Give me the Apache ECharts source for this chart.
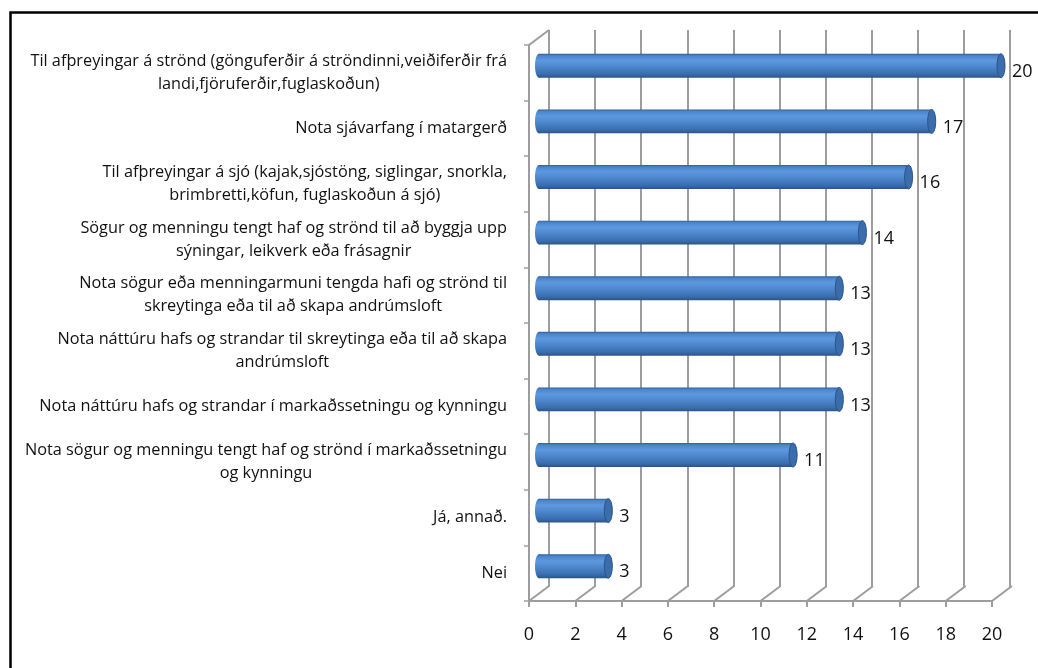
<!DOCTYPE html>
<html>
<head>
<meta charset="utf-8">
<title>Chart</title>
<script src="https://cdn.jsdelivr.net/npm/echarts@6/dist/echarts.min.js"></script>
<style>
  html, body { margin: 0; padding: 0; background: #fff; }
  #chart { width: 1038px; height: 668px; }
</style>
</head>
<body>
<div id="chart"></div>
<script>
// data
var categories = [
  'Til afþreyingar á strönd (gönguferðir á ströndinni,veiðiferðir frá\nlandi,fjöruferðir,fuglaskoðun)',
  'Nota sjávarfang í matargerð',
  'Til afþreyingar á sjó (kajak,sjóstöng, siglingar, snorkla,\nbrimbretti,köfun, fuglaskoðun á sjó)',
  'Sögur og menningu tengt haf og strönd til að byggja upp\nsýningar, leikverk eða frásagnir',
  'Nota sögur eða menningarmuni tengda hafi og strönd til\nskreytinga eða til að skapa andrúmsloft',
  'Nota náttúru hafs og strandar til skreytinga eða til að skapa\nandrúmsloft',
  'Nota náttúru hafs og strandar í markaðssetningu og kynningu',
  'Nota sögur og menningu tengt haf og strönd í markaðssetningu\nog kynningu',
  'Já, annað.',
  'Nei'
];
var counts = [20, 17, 16, 14, 13, 13, 13, 11, 3, 3];
var xTicks = [0, 2, 4, 6, 8, 10, 12, 14, 16, 18, 20];

var GRID_COLOR = '#9d9d9d';
var DEPTH_X = 20, DEPTH_Y = -15; // offset of the back wall (3d look)
var FONT = 'Open Sans';

var chart = echarts.init(document.getElementById('chart'));

function valueAxis(gridIndex, show) {
  return {
    type: 'value', gridIndex: gridIndex, min: 0, max: 20, interval: 2,
    axisLine: { show: show, lineStyle: { color: GRID_COLOR, width: 2 } },
    axisTick: { show: show, length: 6, lineStyle: { color: GRID_COLOR, width: 2 } },
    axisLabel: { show: show, margin: 25, color: '#111', fontSize: 18, fontFamily: FONT },
    splitLine: { show: !show, lineStyle: { color: GRID_COLOR, width: 2 } }
  };
}

function catAxis(gridIndex, show) {
  return {
    type: 'category', gridIndex: gridIndex, data: categories, inverse: true,
    axisLine: { show: show, lineStyle: { color: GRID_COLOR, width: 2 } },
    axisTick: { show: show, length: 5, lineStyle: { color: GRID_COLOR, width: 1.5 } },
    axisLabel: {
      show: show, align: 'right', margin: 22,
      formatter: function (v) {
        return v.split('\n').map(function (l) { return '{c|' + l + '}'; }).join('\n');
      },
      rich: { c: { align: 'center', fontSize: 16.3, lineHeight: 23, color: '#111', fontFamily: FONT } }
    },
    splitLine: { show: false }
  };
}

// floor diagonals + left wall top edge
function renderFloor(params, api) {
  var v = api.value(0);
  var cs = params.coordSys;
  var x = api.coord([v, 0])[0];
  var bottom = cs.y + cs.height;
  var children = [{
    type: 'line',
    shape: { x1: x, y1: bottom, x2: x + DEPTH_X, y2: bottom + DEPTH_Y },
    style: { stroke: GRID_COLOR, lineWidth: 2 }
  }];
  if (v === 0) {
    children.push({
      type: 'line',
      shape: { x1: x, y1: cs.y, x2: x + DEPTH_X, y2: cs.y + DEPTH_Y },
      style: { stroke: GRID_COLOR, lineWidth: 2 }
    });
  }
  return { type: 'group', children: children };
}

// horizontal cylinders
function renderCylinder(params, api) {
  var idx = api.value(1);
  var val = api.value(0);
  var start = api.coord([0, idx]);
  var end = api.coord([val, idx]);
  var h = api.size([0, 1])[1] * 0.43;
  var rx = 4;
  var body = new echarts.graphic.LinearGradient(0, 0, 0, 1, [
    { offset: 0, color: '#2f5e98' },
    { offset: 0.08, color: '#4a84cc' },
    { offset: 0.28, color: '#5e99df' },
    { offset: 0.55, color: '#4c86cc' },
    { offset: 0.85, color: '#3a6dae' },
    { offset: 1, color: '#2a5488' }
  ]);
  return {
    type: 'group',
    children: [
      { type: 'ellipse', shape: { cx: start[0], cy: start[1], rx: rx, ry: h / 2 },
        style: { fill: body } },
      { type: 'rect', shape: { x: start[0], y: start[1] - h / 2, width: end[0] - start[0], height: h },
        style: { fill: body } },
      { type: 'ellipse', shape: { cx: end[0], cy: end[1], rx: rx, ry: h / 2 },
        style: { fill: '#3b6cab', stroke: '#2a5488', lineWidth: 1 } },
      { type: 'text', x: end[0] + rx + 7, y: end[1] + 6,
        style: { text: String(val), fill: '#111', fontSize: 18, fontFamily: FONT,
                 verticalAlign: 'middle', align: 'left' } }
    ]
  };
}

chart.setOption({
  animation: false,
  backgroundColor: '#fff',
  graphic: [{
    type: 'rect', left: 8, top: 10,
    shape: { width: 1100, height: 700 },
    style: { fill: 'none', stroke: '#000', lineWidth: 2.5 }
  }],
  grid: [
    { left: 549, top: 30, width: 461, height: 557 },   // back wall
    { left: 529, top: 45, width: 463, height: 556 },   // front plane
    { left: 539, top: 38, width: 462, height: 556 }    // bars (mid depth)
  ],
  xAxis: [valueAxis(0, false), valueAxis(1, true), Object.assign(valueAxis(2, false), { splitLine: { show: false } })],
  yAxis: [catAxis(0, false), catAxis(1, true), catAxis(2, false)],
  series: [
    {
      type: 'custom', xAxisIndex: 1, yAxisIndex: 1,
      renderItem: renderFloor,
      data: xTicks.map(function (t) { return [t, 0]; }),
      silent: true
    },
    {
      type: 'custom', xAxisIndex: 2, yAxisIndex: 2,
      renderItem: renderCylinder,
      encode: { x: 0, y: 1 },
      data: counts.map(function (c, i) { return [c, i]; }),
      z: 5
    }
  ]
});
</script>
</body>
</html>
